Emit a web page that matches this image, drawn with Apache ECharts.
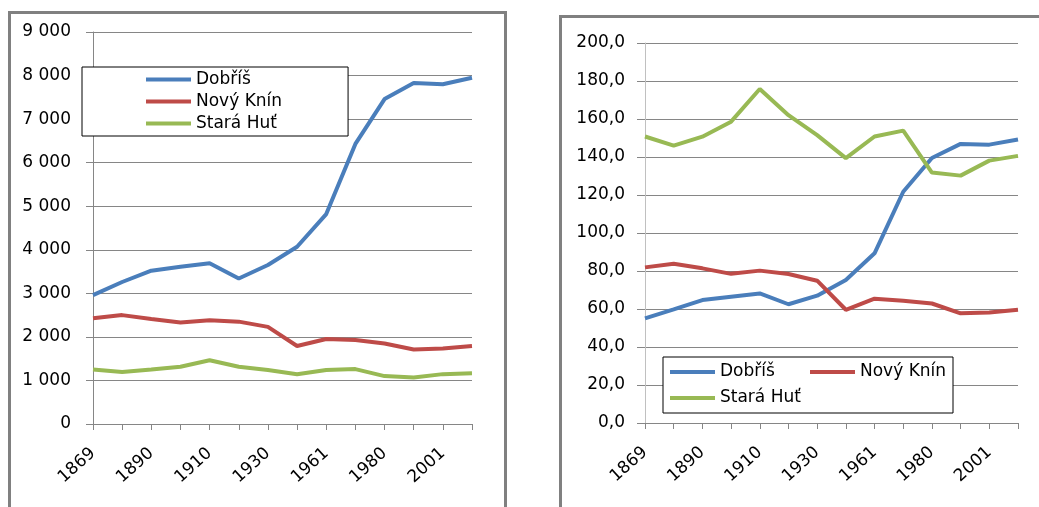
<!DOCTYPE html>
<html>
<head>
<meta charset="utf-8">
<script src="https://cdn.jsdelivr.net/npm/echarts@6/dist/echarts.min.js"></script>
<style>
  html, body { margin: 0; padding: 0; background: #fff; width: 1039px; height: 507px; overflow: hidden; }
  .frame { position: absolute; border: 3px solid #808080; box-sizing: border-box; background: #fff; }
  #absChart { left: 8px; top: 11px; width: 499px; height: 520px; }
  #idxChart { left: 559px; top: 15px; width: 500px; height: 520px; }
</style>
</head>
<body>
<div id="absChart" class="frame"></div>
<div id="idxChart" class="frame"></div>
<script>
var years = ['1869', '1880', '1890', '1900', '1910', '1921', '1930', '1950', '1961', '1970', '1980', '1991', '2001', '2011'];
var names = ['Dobříš', 'Nový Knín', 'Stará Huť'];
var colors = ['#4a7ebb', '#be4b48', '#98b954'];

// počet obyvatel
var dobris = [2960, 3260, 3520, 3610, 3690, 3340, 3650, 4070, 4820, 6430, 7460, 7830, 7800, 7950];
var novyKnin = [2430, 2500, 2410, 2330, 2380, 2350, 2230, 1790, 1950, 1930, 1850, 1710, 1735, 1790];
var staraHut = [1250, 1195, 1250, 1315, 1465, 1315, 1240, 1140, 1240, 1260, 1100, 1070, 1145, 1165];

// index
var dobrisIdx = [55.1, 59.8, 64.7, 66.5, 68.2, 62.5, 67.0, 75.3, 89.3, 121.7, 139.5, 146.9, 146.5, 149.2];
var novyKninIdx = [81.9, 83.8, 81.4, 78.5, 80.2, 78.4, 74.9, 59.6, 65.4, 64.3, 62.9, 57.7, 58.2, 59.6];
var staraHutIdx = [150.8, 146.0, 150.7, 158.6, 175.8, 162.0, 151.5, 139.4, 150.8, 153.9, 131.8, 130.2, 138.1, 140.6];

var font = 'DejaVu Sans';

function makeSeries(list) {
    return list.map(function (d, i) {
        return {
            name: names[i],
            type: 'line',
            data: d,
            symbol: 'none',
            lineStyle: { width: 4, color: colors[i] },
            itemStyle: { color: colors[i] },
            animation: false
        };
    });
}

function xAxisCfg() {
    return {
        type: 'category',
        data: years,
        boundaryGap: false,
        axisLine: { lineStyle: { color: '#868686', width: 1 } },
        axisTick: { show: true, interval: 0, length: 6, lineStyle: { color: '#868686' } },
        axisLabel: { interval: 1, rotate: 42, margin: 27, color: '#000', fontFamily: font, fontSize: 17 }
    };
}

var myChart = echarts.init(document.getElementById('absChart'));
var option = {
    animation: false,
    grid: { left: 82, top: 18, width: 379, height: 392 },
    legend: {
        orient: 'vertical',
        left: 71, top: 53,
        padding: [4, 66, 4, 64],
        itemGap: 5,
        itemWidth: 45,
        itemHeight: 4,
        icon: 'rect',
        backgroundColor: '#fff',
        borderColor: '#000',
        borderWidth: 1,
        textStyle: { color: '#000', fontFamily: font, fontSize: 17 },
        data: names
    },
    xAxis: xAxisCfg(),
    yAxis: {
        type: 'value',
        min: 0, max: 9000, interval: 1000,
        axisLine: { show: true, lineStyle: { color: '#868686' } },
        axisTick: { show: true, length: 7, lineStyle: { color: '#868686' } },
        splitLine: { lineStyle: { color: '#868686', width: 1 } },
        axisLabel: {
            margin: 22, color: '#000', fontFamily: font, fontSize: 17,
            formatter: function (v) { return v >= 1000 ? Math.floor(v / 1000) + ' 000' : String(v); }
        }
    },
    series: makeSeries([dobris, novyKnin, staraHut])
};
myChart.setOption(option);

var myChart2 = echarts.init(document.getElementById('idxChart'));
var option2 = {
    animation: false,
    grid: { left: 83, top: 25, width: 373, height: 380 },
    legend: {
        orient: 'horizontal',
        left: 101, top: 339,
        width: 292,
        padding: [2, 3, 2, 7],
        itemGap: 0,
        itemWidth: 45,
        itemHeight: 4,
        icon: 'rect',
        backgroundColor: '#fff',
        borderColor: '#000',
        borderWidth: 1,
        formatter: function (n) { return '{w|' + n + '}'; },
        textStyle: {
            color: '#000', fontFamily: font, fontSize: 17,
            rich: { w: { width: 90, height: 26, lineHeight: 26, fontFamily: font, fontSize: 17 } }
        },
        data: names
    },
    xAxis: xAxisCfg(),
    yAxis: {
        type: 'value',
        min: 0, max: 200, interval: 20,
        axisLine: { show: true, lineStyle: { color: '#c0c0c0' } },
        axisTick: { show: true, length: 8, lineStyle: { color: '#868686' } },
        splitLine: { lineStyle: { color: '#868686', width: 1 } },
        axisLabel: {
            margin: 20, color: '#000', fontFamily: font, fontSize: 17,
            formatter: function (v) { return v.toFixed(1).replace('.', ','); }
        }
    },
    series: makeSeries([dobrisIdx, novyKninIdx, staraHutIdx])
};
myChart2.setOption(option2);
</script>
</body>
</html>
